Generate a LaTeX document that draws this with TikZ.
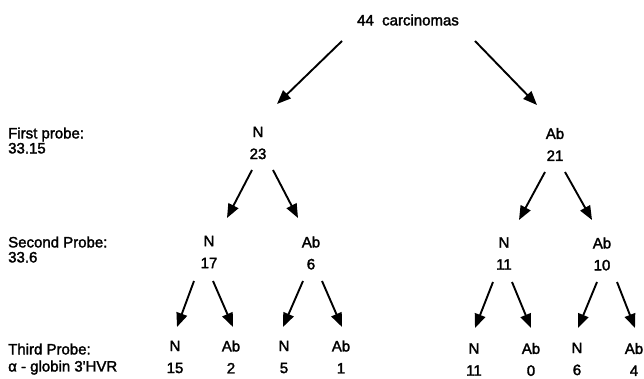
\documentclass[tikz,border=0pt]{standalone}
\usepackage{fontspec}
\setmainfont{Liberation Sans}
\newfontfamily\lf{Liberation Sans}[FakeBold=2]
\usetikzlibrary{arrows.meta}
\begin{document}
\begin{tikzpicture}[x=1pt,y=1pt,
  lab/.style={inner sep=0pt,align=center,font=\lf\fontsize{15}{22}\selectfont},
  side/.style={inner sep=0pt,anchor=base west,font=\lf\fontsize{15}{18}\selectfont},
  arr/.style={line width=1.9pt,-{Triangle[length=14pt,width=11pt]}}]
\useasboundingbox (0,0) rectangle (644,379);
% y in picture = 379 - y in image
\node[lab] (top) at (408,359) {44\ \ carcinomas};
\node[lab] (n23) at (258,236) {N\\23};
\node[lab] (a21) at (555,234.5) {Ab\\21};
\node[lab] (n17) at (209,127) {N\\17};
\node[lab] (a6)  at (311,126) {Ab\\6};
\node[lab] (n11) at (504,125.5) {N\\11};
\node[lab] (a10) at (602,125) {Ab\\10};
\node[lab] (l1) at (175,22) {N\\15};
\node[lab] (l2) at (231,22) {Ab\\2};
\node[lab] (l3) at (284,22) {N\\5};
\node[lab] (l4) at (341,22) {Ab\\1};
\node[lab] (l5) at (474,19.5) {N\\11};
\node[lab] (l6) at (531,19.5) {Ab\\0};
\node[lab] (l7) at (577,20) {N\\6};
\node[lab] (l8) at (634,19.5) {Ab\\4};
% side labels
\node[side] (p1a) at (8,240.6) {First probe:};
\node[side] (p1b) at (8,225.6) {33.15};
\node[side] (p2a) at (8,131.6) {Second Probe:};
\node[side] (p2b) at (8,116.6) {33.6};
\node[side] (p3a) at (8,24.6) {Third Probe:};
\node[side] (p3b) at (8,7.5) {α - globin 3'HVR};
% arrows
\draw[arr] ([shift={(-66,-21)}]top.center) -- ([shift={(19,39)}]n23.center);
\draw[arr] ([shift={(67,-21)}]top.center) -- ([shift={(-18,39.5)}]a21.center);
\draw[arr] ([shift={(-6,-27)}]n23.center) -- ([shift={(18,34)}]n17.center);
\draw[arr] ([shift={(15,-27)}]n23.center) -- ([shift={(-13,35)}]a6.center);
\draw[arr] ([shift={(-10,-27.5)}]a21.center) -- ([shift={(15,33.5)}]n11.center);
\draw[arr] ([shift={(10,-27.5)}]a21.center) -- ([shift={(-10,34)}]a10.center);
\draw[arr] ([shift={(-15,-29)}]n17.center) -- ([shift={(2,30)}]l1.center);
\draw[arr] ([shift={(4,-29)}]n17.center) -- ([shift={(2,30)}]l2.center);
\draw[arr] ([shift={(-8,-28)}]a6.center) -- ([shift={(-1,30)}]l3.center);
\draw[arr] ([shift={(11,-28)}]a6.center) -- ([shift={(1,30)}]l4.center);
\draw[arr] ([shift={(-11,-28.5)}]n11.center) -- ([shift={(1,31.5)}]l5.center);
\draw[arr] ([shift={(8,-28.5)}]n11.center) -- ([shift={(0,31.5)}]l6.center);
\draw[arr] ([shift={(-5,-28)}]a10.center) -- ([shift={(1,31)}]l7.center);
\draw[arr] ([shift={(15,-28)}]a10.center) -- ([shift={(1,31.5)}]l8.center);
\end{tikzpicture}
\end{document}
